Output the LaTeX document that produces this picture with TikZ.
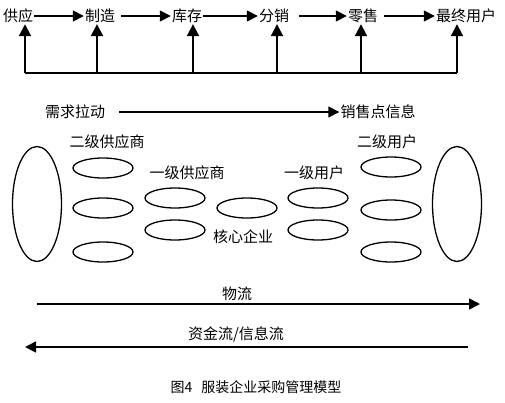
\documentclass[tikz,border=0pt]{standalone}
\usepackage{fontspec}
\setmainfont{Noto Sans CJK SC}
\usetikzlibrary{arrows.meta,shapes.geometric}

\begin{document}
\begin{tikzpicture}[x=1pt,y=-1pt,font=\fontsize{15}{17}\selectfont,
  lb/.style={inner sep=1pt},
  ov/.style={ellipse,draw,line width=1.3pt,inner sep=0pt,minimum width=60pt,minimum height=20pt},
  big/.style={ellipse,draw,line width=1.3pt,inner sep=0pt,minimum width=49pt,minimum height=115pt},
  fl/.style={-{Triangle[length=11pt,width=11pt]},line width=1.6pt},
  up/.style={-{Triangle[length=12pt,width=12pt]},line width=2pt}]
\useasboundingbox (0,0) rectangle (505,402);
% chain of stages
\node[lb] (sup) at (18,16) {供应}; \node[lb] (mfg) at (100,16) {制造};
\node[lb] (inv) at (187,16) {库存}; \node[lb] (dis) at (274,16) {分销};
\node[lb] (ret) at (363,16) {零售}; \node[lb] (usr) at (466,16) {最终用户};
\draw[fl] (sup) -- (mfg); \draw[fl,shorten <=5pt] (mfg) -- (inv);
\draw[fl] (inv) -- (dis); \draw[fl,shorten <=9pt] (dis) -- (ret);
\draw[fl,shorten <=5pt] (ret) -- (usr);
\coordinate (b1) at (25,73); \coordinate (b2) at (97,73); \coordinate (b3) at (193,73);
\coordinate (b4) at (277,73); \coordinate (b5) at (361,73); \coordinate (b6) at (457,73);
\draw[line width=2pt] (b1) -- (b6);
\draw[up] (b1) -- (b1 |- sup.south); \draw[up] (b2) -- (b2 |- mfg.south);
\draw[up] (b3) -- (b3 |- inv.south); \draw[up] (b4) -- (b4 |- dis.south);
\draw[up] (b5) -- (b5 |- ret.south); \draw[up] (b6) -- (b6 |- usr.south);
% demand pull
\node[lb] (dem) at (75,112) {需求拉动}; \node[lb] (pos) at (378,112) {销售点信息};
\draw[fl,shorten <=13pt] (dem) -- (pos);
% network
\node (s2) at (107,142) {二级供应商}; \node (s1) at (187,173) {一级供应商};
\node (c1) at (314,173) {一级用户}; \node (c2) at (387,142) {二级用户};
\node (core) at (243,237) {核心企业};
\node[big] (bl) at (37,204) {}; \node[big] (br) at (457,204) {};
\node[ov] (a1) at (103,168) {}; \node[ov] (a2) at (103,208) {}; \node[ov] (a3) at (103,252) {};
\node[ov] (m1) at (175,198) {}; \node[ov] (m2) at (175,230) {};
\node[ov] (k) at (247,208) {};
\node[ov] (n1) at (318,198) {}; \node[ov] (n2) at (318,230) {};
\node[ov] (r1) at (391,167) {}; \node[ov] (r2) at (391,210) {}; \node[ov] (r3) at (391,252) {};
% flows
\coordinate (wl) at (37,304); \coordinate (wr) at (480,304);
\coordinate (fr) at (468,347); \coordinate (fl) at (25,347);
\node (wu) at (237,294) {物流}; \node (fi) at (236,334) {资金流/信息流};
\draw[fl] (wl) -- (wr); \draw[fl] (fr) -- (fl);
\node[font=\fontsize{14}{16}\selectfont] (cap) at (256,387) {图4\hspace{9pt}服装企业采购管理模型};
\end{tikzpicture}
\end{document}
